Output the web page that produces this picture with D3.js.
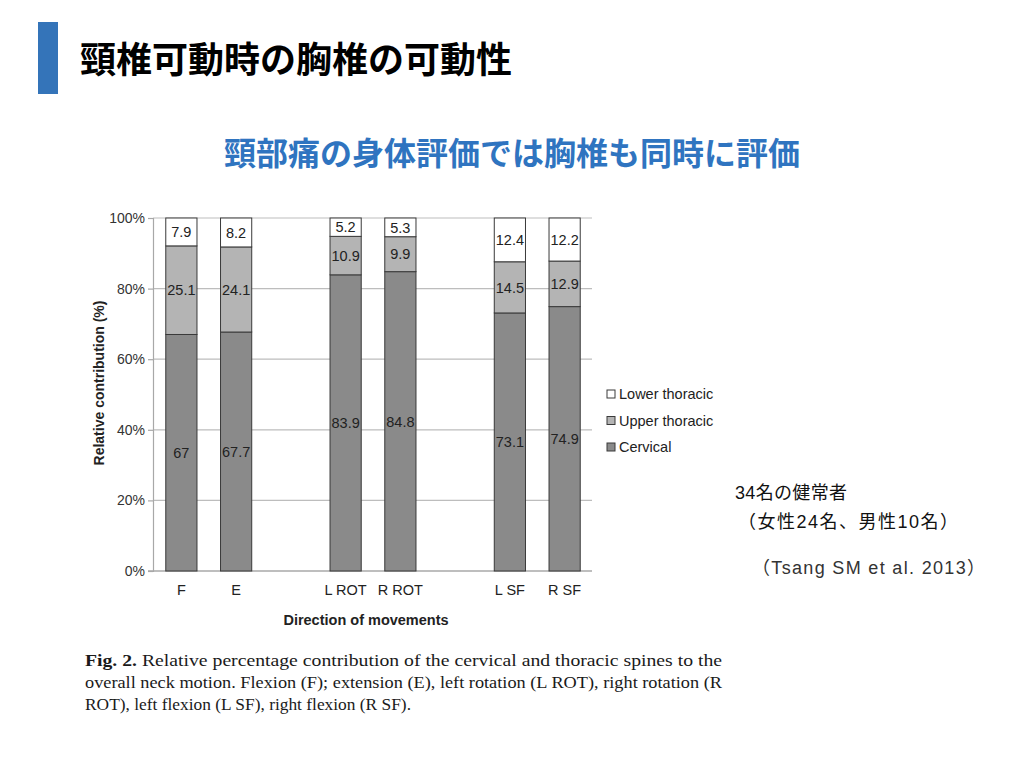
<!DOCTYPE html>
<html>
<head>
<meta charset="utf-8">
<script src="https://cdn.jsdelivr.net/npm/d3@7"></script>
<style>
  body { margin: 0; background: #fff; }
  svg { display: block; }
</style>
</head>
<body>
<svg id="slide" width="1024" height="768"></svg>
<script>
(function () {
  "use strict";

  // chart data
  var slots = ["F", "E", "gap1", "L ROT", "R ROT", "gap2", "L SF", "R SF"];
  var categories = ["F", "E", "L ROT", "R ROT", "L SF", "R SF"];
  var cervical = [67, 67.7, 83.9, 84.8, 73.1, 74.9];
  var upperThoracic = [25.1, 24.1, 10.9, 9.9, 14.5, 12.9];
  var lowerThoracic = [7.9, 8.2, 5.2, 5.3, 12.4, 12.2];
  var seriesNames = ["Cervical", "Upper thoracic", "Lower thoracic"];
  var yTicks = [0, 20, 40, 60, 80, 100];

  var colors = { "Cervical": "#8a8a8a", "Upper thoracic": "#b4b4b4", "Lower thoracic": "#ffffff" };
  var sans = "'Liberation Sans', Arial, sans-serif";
  var jp = "'Noto Sans CJK JP', sans-serif";

  var svg = d3.select("#slide");
  svg.append("rect").attr("width", 1024).attr("height", 768).attr("fill", "#fff");

  // slide header
  svg.append("rect").attr("x", 38).attr("y", 22).attr("width", 20).attr("height", 72).attr("fill", "#3474b9");
  svg.append("text").attr("x", 80).attr("y", 73)
    .attr("font-family", jp).attr("font-weight", "bold").attr("font-size", 36).attr("fill", "#000")
    .text("頸椎可動時の胸椎の可動性");
  svg.append("text").attr("x", 512).attr("y", 165).attr("text-anchor", "middle")
    .attr("font-family", jp).attr("font-weight", "bold").attr("font-size", 32).attr("fill", "#2f74c0")
    .text("頸部痛の身体評価では胸椎も同時に評価");

  // scales
  var x = d3.scaleBand().domain(slots).range([154, 592]).paddingInner(0.43).paddingOuter(0.215);
  var y = d3.scaleLinear().domain([0, 100]).range([571, 218]);

  var rows = categories.map(function (c, i) {
    return { cat: c, "Cervical": cervical[i], "Upper thoracic": upperThoracic[i], "Lower thoracic": lowerThoracic[i] };
  });
  var stacked = d3.stack().keys(seriesNames)(rows);

  var chart = svg.append("g");

  // grid lines
  chart.append("g").selectAll("line").data(yTicks.slice(1)).enter().append("line")
    .attr("x1", 153).attr("x2", 592)
    .attr("y1", function (d) { return y(d); }).attr("y2", function (d) { return y(d); })
    .attr("stroke", "#bdbdbd").attr("stroke-width", 1.2);

  // y axis
  var yAxis = chart.append("g").attr("transform", "translate(153,0)")
    .call(d3.axisLeft(y).tickValues(yTicks).tickSize(5).tickPadding(3)
      .tickFormat(function (d) { return d + "%"; }));
  yAxis.select(".domain").attr("stroke", "#a8a8a8").attr("stroke-width", 1.2);
  yAxis.selectAll(".tick line").attr("stroke", "#a8a8a8").attr("stroke-width", 1.2);
  yAxis.selectAll("text").attr("font-family", sans).attr("font-size", 14).attr("fill", "#333");

  // x baseline
  chart.append("line").attr("x1", 148).attr("x2", 592).attr("y1", y(0)).attr("y2", y(0))
    .attr("stroke", "#a8a8a8").attr("stroke-width", 1.5);

  // bars
  var layers = chart.append("g").selectAll("g").data(stacked).enter().append("g")
    .attr("fill", function (d) { return colors[d.key]; });

  layers.selectAll("rect").data(function (d) { return d; }).enter().append("rect")
    .attr("x", function (d) { return x(d.data.cat); })
    .attr("width", x.bandwidth())
    .attr("y", function (d) { return y(d[1]); })
    .attr("height", function (d) { return y(d[0]) - y(d[1]); })
    .attr("stroke", "#3a3a3a").attr("stroke-width", 1);

  layers.selectAll("text").data(function (d) { return d; }).enter().append("text")
    .attr("x", function (d) { return x(d.data.cat) + x.bandwidth() / 2; })
    .attr("y", function (d) { return (y(d[0]) + y(d[1])) / 2; })
    .attr("dy", "0.36em").attr("text-anchor", "middle")
    .attr("font-family", sans).attr("font-size", 14.5).attr("fill", "#222")
    .text(function (d) { return +(d[1] - d[0]).toFixed(1); });

  // x labels
  chart.append("g").selectAll("text").data(categories).enter().append("text")
    .attr("x", function (d) { return x(d) + x.bandwidth() / 2; })
    .attr("y", 595).attr("text-anchor", "middle")
    .attr("font-family", sans).attr("font-size", 14.5).attr("fill", "#222")
    .text(function (d) { return d; });

  // axis titles
  chart.append("text").attr("x", 366).attr("y", 625).attr("text-anchor", "middle")
    .attr("font-family", sans).attr("font-weight", "bold").attr("font-size", 14.5).attr("fill", "#222")
    .text("Direction of movements");
  chart.append("text").attr("transform", "translate(104,383) rotate(-90)").attr("text-anchor", "middle")
    .attr("font-family", sans).attr("font-weight", "bold").attr("font-size", 14).attr("fill", "#222")
    .text("Relative contribution (%)");

  // legend
  var legendOrder = ["Lower thoracic", "Upper thoracic", "Cervical"];
  var legend = chart.append("g").selectAll("g").data(legendOrder).enter().append("g")
    .attr("transform", function (d, i) { return "translate(607," + (394 + i * 26.5) + ")"; });
  legend.append("rect").attr("x", 0).attr("y", -4).attr("width", 8).attr("height", 8)
    .attr("fill", function (d) { return colors[d]; }).attr("stroke", "#3a3a3a").attr("stroke-width", 1);
  legend.append("text").attr("x", 12).attr("dy", "0.36em")
    .attr("font-family", sans).attr("font-size", 14.5).attr("fill", "#222")
    .text(function (d) { return d; });

  // figure caption
  var serif = "'Liberation Serif', 'Times New Roman', serif";
  var cap = svg.append("g").attr("font-family", serif).attr("font-size", 17).attr("fill", "#1a1a1a");
  var l1 = cap.append("text").attr("x", 85).attr("y", 666).attr("textLength", 637).attr("lengthAdjust", "spacingAndGlyphs");
  l1.append("tspan").attr("font-weight", "bold").text("Fig. 2.");
  l1.append("tspan").text(" Relative percentage contribution of the cervical and thoracic spines to the");
  cap.append("text").attr("x", 85).attr("y", 688).attr("textLength", 637).attr("lengthAdjust", "spacingAndGlyphs")
    .text("overall neck motion. Flexion (F); extension (E), left rotation (L ROT), right rotation (R");
  cap.append("text").attr("x", 85).attr("y", 710).attr("textLength", 326).attr("lengthAdjust", "spacingAndGlyphs")
    .text("ROT), left flexion (L SF), right flexion (R SF).");

  // side notes
  var note = svg.append("g").attr("font-family", "'Liberation Sans', " + jp).attr("font-size", 18).attr("fill", "#111");
  note.append("text").attr("x", 735).attr("y", 499).attr("textLength", 112).attr("lengthAdjust", "spacing")
    .text("34名の健常者");
  note.append("text").attr("x", 738).attr("y", 528).attr("textLength", 220).attr("lengthAdjust", "spacing")
    .text("（女性24名、男性10名）");
  note.append("text").attr("x", 752).attr("y", 574).attr("fill", "#333").attr("textLength", 233).attr("lengthAdjust", "spacing")
    .text("（Tsang SM et al. 2013）");
}());
</script>
</body>
</html>
